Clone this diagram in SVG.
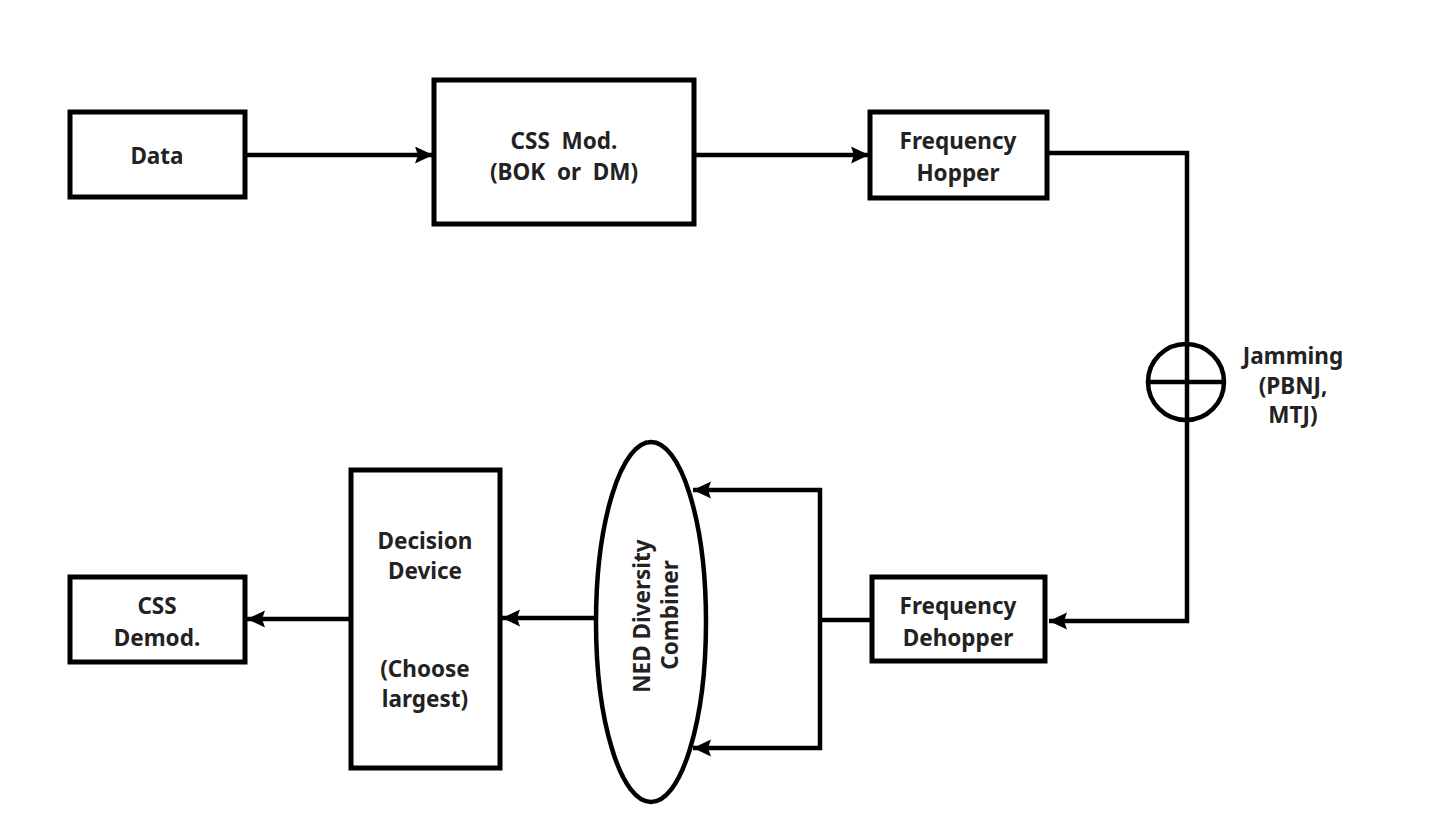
<svg xmlns="http://www.w3.org/2000/svg" width="1439" height="836" viewBox="0 0 1439 836">
<style>
.box{fill:#fff;stroke:#000;stroke-width:5}
.ln{fill:none;stroke:#000;stroke-width:4.5}
.t{font-family:"Noto Sans","Open Sans","DejaVu Sans",sans-serif;font-weight:bold;font-size:22.5px;fill:#222;text-anchor:middle;dominant-baseline:central;white-space:pre}
</style>
<defs>
<marker id="ah" markerUnits="userSpaceOnUse" markerWidth="20" markerHeight="18" refX="18" refY="8.5" orient="auto">
<path d="M0,0 L18,8.5 L0,17 L3,8.5 z" fill="#000"/>
</marker>
</defs>
<rect width="1439" height="836" fill="#fff"/>
<g id="connectors">
<path class="ln" d="M245,155 H433" marker-end="url(#ah)"/>
<path class="ln" d="M694,155 H869" marker-end="url(#ah)"/>
<path class="ln" d="M1047,153 H1187 V621 H1049" marker-end="url(#ah)"/>
<path class="ln" d="M872,620 H820"/>
<path class="ln" d="M820,488 V750"/>
<path class="ln" d="M822,490 H693" marker-end="url(#ah)"/>
<path class="ln" d="M822,748 H693" marker-end="url(#ah)"/>
<path class="ln" d="M597,618 H502" stroke-width="3.5" marker-end="url(#ah)"/>
<path class="ln" d="M350,619 H247" marker-end="url(#ah)"/>
</g>
<g id="data"><rect class="box" x="70" y="112" width="175" height="85"/><text class="t" x="157" y="155">Data</text></g>
<g id="css-mod"><rect class="box" x="434" y="80" width="260" height="144"/><text class="t" x="564" y="140" xml:space="preserve">CSS  Mod.</text><text class="t" x="564" y="171" xml:space="preserve">(BOK  or  DM)</text></g>
<g id="hopper"><rect class="box" x="870" y="112" width="177" height="86"/><text class="t" x="958" y="140">Frequency</text><text class="t" x="958" y="172">Hopper</text></g>
<g id="jamming"><circle cx="1186" cy="382" r="38" fill="none" stroke="#000" stroke-width="4.5"/><line x1="1148" y1="382" x2="1224" y2="382" stroke="#000" stroke-width="4.5"/><text class="t" x="1293" y="355">Jamming</text><text class="t" x="1293" y="385">(PBNJ,</text><text class="t" x="1293" y="414">MTJ)</text></g>
<g id="dehopper"><rect class="box" x="872" y="577" width="173" height="84"/><text class="t" x="958" y="605">Frequency</text><text class="t" x="958" y="637">Dehopper</text></g>
<g id="combiner"><ellipse cx="651" cy="622" rx="55" ry="180" fill="#fff" stroke="#000" stroke-width="4.5"/><text class="t" transform="translate(641,616) rotate(-90)">NED Diversity</text><text class="t" transform="translate(669,615) rotate(-90)">Combiner</text></g>
<g id="decision"><rect class="box" x="351" y="470" width="149" height="298"/><text class="t" x="425" y="540">Decision</text><text class="t" x="425" y="570">Device</text><text class="t" x="425" y="668">(Choose</text><text class="t" x="425" y="698">largest)</text></g>
<g id="css-demod"><rect class="box" x="70" y="577" width="175" height="85"/><text class="t" x="157" y="605">CSS</text><text class="t" x="157" y="637">Demod.</text></g>
</svg>
